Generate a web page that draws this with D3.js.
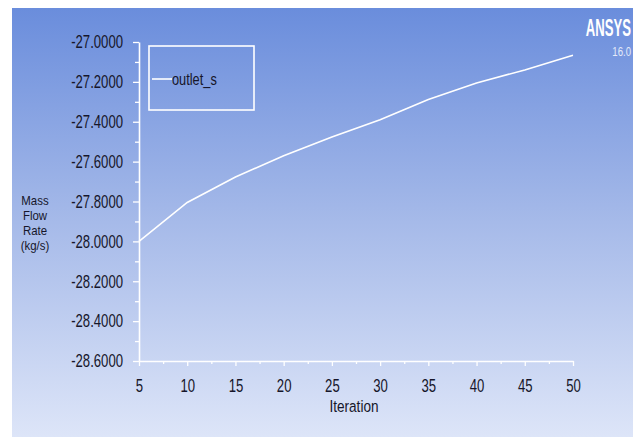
<!DOCTYPE html>
<html>
<head>
<meta charset="utf-8">
<script src="https://cdn.jsdelivr.net/npm/d3@7/dist/d3.min.js"></script>
<style>
  body { margin: 0; background: #fff; }
  svg { display: block; }
  text { font-family: "Liberation Sans", Arial, sans-serif; }
</style>
</head>
<body>
<div id="chart"></div>
<script>
// data
var iterations = [5, 10, 15, 20, 25, 30, 35, 40, 45, 50];
var massFlow = [-28.000, -27.805, -27.677, -27.570, -27.477, -27.390, -27.288, -27.206, -27.140, -27.067];
var yTicks = [-28.6, -28.4, -28.2, -28.0, -27.8, -27.6, -27.4, -27.2, -27.0];
var xTicks = [5, 10, 15, 20, 25, 30, 35, 40, 45, 50];
var seriesName = 'outlet_s';
var yTitle = ['Mass', 'Flow', 'Rate', '(kg/s)'];

var width = 639, height = 438;
var margin = { left: 139, right: 66, top: 42, bottom: 77 };
var ink = '#16162a';

// no narrow font installed, so squeeze text horizontally
function narrow(sel, sx) {
    sel.each(function () {
        var t = d3.select(this);
        var x0 = +t.attr('x') || 0;
        t.attr('x', x0 / sx).attr('transform', 'scale(' + sx + ',1)');
    });
}

var svg = d3.select('#chart').append('svg')
    .attr('width', width)
    .attr('height', height);

var grad = svg.append('defs').append('linearGradient')
    .attr('id', 'bg')
    .attr('x1', 0).attr('y1', 0).attr('x2', 0).attr('y2', 1);
grad.append('stop').attr('offset', '0%').attr('stop-color', '#6a8ddc');
grad.append('stop').attr('offset', '50%').attr('stop-color', '#a6bae9');
grad.append('stop').attr('offset', '100%').attr('stop-color', '#dde5f8');

svg.append('rect')
    .attr('x', 12).attr('y', 8)
    .attr('width', 621).attr('height', 429)
    .attr('fill', 'url(#bg)');

var x = d3.scaleLinear()
    .domain([5, 50])
    .range([margin.left, width - margin.right]);
var y = d3.scaleLinear()
    .domain([-28.6, -27.0])
    .range([height - margin.bottom, margin.top]);

// minor ticks first so the major ones draw on top
svg.append('g')
    .attr('transform', 'translate(' + margin.left + ',0)')
    .call(d3.axisLeft(y).tickValues(d3.range(-28.5, -27.0, 0.2)).tickSize(4).tickFormat(''))
    .call(function (g) { g.select('.domain').remove(); g.selectAll('line').attr('stroke', '#fff').attr('stroke-width', 1.3); });
svg.append('g')
    .attr('transform', 'translate(0,' + (height - margin.bottom) + ')')
    .call(d3.axisBottom(x).tickValues(d3.range(7.5, 50, 5)).tickSize(3).tickFormat(''))
    .call(function (g) { g.select('.domain').remove(); g.selectAll('line').attr('stroke', '#fff').attr('stroke-width', 1.3); });

var fmt = d3.format('.4f');
var yAxis = svg.append('g')
    .attr('transform', 'translate(' + margin.left + ',0)')
    .call(d3.axisLeft(y).tickValues(yTicks).tickSize(6).tickSizeOuter(0).tickPadding(10)
        .tickFormat(function (d) { return fmt(d).replace('\u2212', '-'); }));
var xAxis = svg.append('g')
    .attr('transform', 'translate(0,' + (height - margin.bottom) + ')')
    .call(d3.axisBottom(x).tickValues(xTicks).tickSize(5).tickSizeOuter(0).tickPadding(13));

[yAxis, xAxis].forEach(function (g) {
    g.select('.domain').attr('stroke', '#fff').attr('stroke-width', 1.6);
    g.selectAll('.tick line').attr('stroke', '#fff').attr('stroke-width', 1.3);
    g.selectAll('.tick text')
        .attr('fill', ink)
        .style('font-size', '18px')
        .style('font-family', '"Liberation Sans", Arial, sans-serif')
        .call(narrow, 0.73);
});

// axis titles
svg.append('text')
    .attr('x', 354).attr('y', 412)
    .attr('text-anchor', 'middle')
    .attr('fill', ink)
    .style('font-size', '17px')
    .text('Iteration')
    .call(narrow, 0.8);

// stacked y title, one line per word
svg.append('g').selectAll('text')
    .data(yTitle)
    .enter().append('text')
    .attr('x', 35)
    .attr('y', function (d, i) { return 205 + i * 15; })
    .attr('text-anchor', 'middle')
    .attr('fill', ink)
    .style('font-size', '13px')
    .text(function (d) { return d; })
    .call(narrow, 0.88);

// series
var line = d3.line()
    .x(function (d, i) { return x(iterations[i]); })
    .y(function (d) { return y(d); });
svg.append('path')
    .datum(massFlow)
    .attr('d', line)
    .attr('fill', 'none')
    .attr('stroke', '#fff')
    .attr('stroke-width', 1.6);

// legend
var lg = svg.append('g');
lg.append('rect')
    .attr('x', 149).attr('y', 46)
    .attr('width', 105).attr('height', 64)
    .attr('fill', 'none')
    .attr('stroke', '#fff')
    .attr('stroke-width', 1.6);
lg.append('line')
    .attr('x1', 152).attr('x2', 172)
    .attr('y1', 79).attr('y2', 79)
    .attr('stroke', '#fff')
    .attr('stroke-width', 1.6);
lg.append('text')
    .attr('x', 172).attr('y', 85)
    .attr('fill', ink)
    .style('font-size', '16px')
    .text(seriesName)
    .call(narrow, 0.8);

// logo
svg.append('text')
    .attr('x', 631).attr('y', 36)
    .attr('text-anchor', 'end')
    .attr('fill', '#fff')
    .style('font-size', '23px')
    .style('font-weight', 'bold')
    .text('ANSYS')
    .call(narrow, 0.57);
svg.append('text')
    .attr('x', 631).attr('y', 56)
    .attr('text-anchor', 'end')
    .attr('fill', '#e4eaf9')
    .style('font-size', '12px')
    .text('16.0')
    .call(narrow, 0.8);
</script>
</body>
</html>
